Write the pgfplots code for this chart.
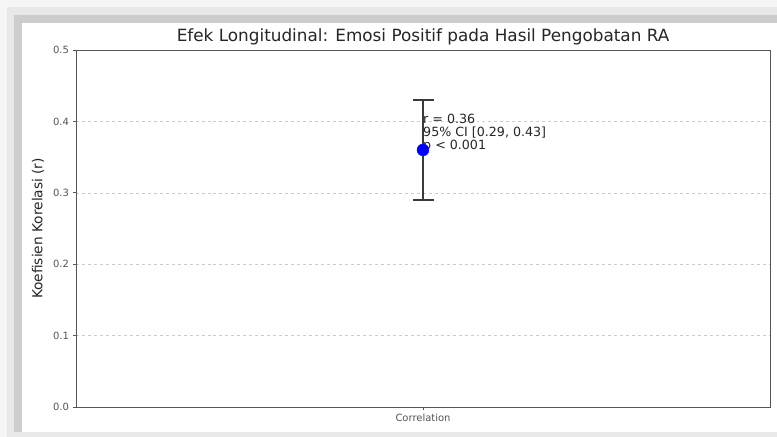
\documentclass[border=0pt]{standalone}
\usepackage{pgfplots}
\pgfplotsset{compat=1.18}
\usepackage{fontspec}
\setmainfont{DejaVu Sans}
\definecolor{frameA}{HTML}{F6F6F6}
\definecolor{frameB}{HTML}{E8E8E8}
\definecolor{frameC}{HTML}{CDCDCD}
\definecolor{axgray}{HTML}{555555}
\definecolor{gridgray}{HTML}{CCCCCC}
\definecolor{ebar}{HTML}{3A3A3A}
\begin{document}
\begin{tikzpicture}[x=1bp,y=1bp]
  % screenshot frame
  \useasboundingbox (0,0) rectangle (777,437);
  \fill[frameA] (0,0) rectangle (777,437);
  \fill[frameB] (7,0) rectangle (777,430);
  \fill[frameC] (14,5) rectangle (777,422);
  \fill[white] (22,5) rectangle (777,414);
  \begin{axis}[
    at={(76bp,30bp)}, anchor=south west,
    width=694bp, height=357bp, scale only axis,
    xmin=-1, xmax=1, ymin=0, ymax=0.5,
    xtick={0}, xticklabels={Correlation},
    ytick={0,0.1,0.2,0.3,0.4,0.5},
    yticklabel style={/pgf/number format/.cd,fixed,fixed zerofill,precision=1},
    /pgf/number format/assume math mode=true,
    ticklabel style={font=\fontsize{10}{11}\selectfont, text=axgray},
    tick style={axgray, line width=0.6pt},
    tick align=outside, major tick length=3.5bp,
    xtick pos=bottom, ytick pos=left,
    axis line style={axgray, line width=0.8pt},
    ymajorgrids, major grid style={gridgray, dashed, line width=0.5pt},
    ylabel={Koefisien Korelasi (r)},
    ylabel style={font=\fontsize{13.8}{15}\selectfont, text=black!85, yshift=2bp},
    title={Efek Longitudinal: Emosi Positif pada Hasil Pengobatan RA},
    title style={font=\fontsize{16.9}{18}\selectfont, text=black!85, yshift=-5bp},
    clip=false,
  ]
    \addplot[only marks, mark=*, mark size=6bp, color=blue,
      error bars/.cd, y dir=both, y explicit,
      error bar style={ebar, line width=1.2pt},
      error mark options={rotate=90, mark size=10.5bp, ebar, line width=1.2pt}]
      coordinates {(0,0.36) +- (0,0.07)};
    \node[anchor=south west, inner sep=0pt, align=left,
      font=\fontsize{12.7}{13}\selectfont, text=black!85]
      at (axis cs:0,0.357) {r = 0.36\\95\% CI [0.29, 0.43]\\p < 0.001};
  \end{axis}
\end{tikzpicture}
\end{document}
